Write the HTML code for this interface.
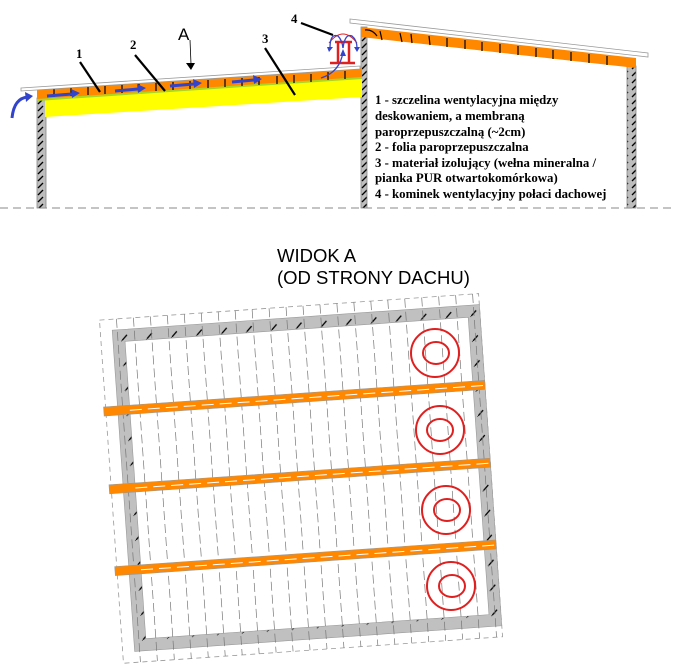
<!DOCTYPE html>
<html><head><meta charset="utf-8"><style>
html,body{margin:0;padding:0;background:#fff}
svg{display:block}
.t{font-family:"Liberation Serif",serif;font-weight:bold;font-size:12.8px}
</style></head><body>
<svg width="673" height="670" viewBox="0 0 673 670" xmlns="http://www.w3.org/2000/svg">
<defs>
<pattern id="h" width="9" height="7" patternUnits="userSpaceOnUse">
<rect width="9" height="7" fill="#bdbdbd"/>
<line x1="2" y1="6" x2="7" y2="1" stroke="#000" stroke-width="1.3"/>
</pattern>
<pattern id="hp" width="25" height="25" patternUnits="userSpaceOnUse">
<rect width="25" height="25" fill="#c0c0c0"/>
<line x1="-1" y1="26" x2="26" y2="-1" stroke="#000" stroke-width="1.3" stroke-dasharray="9,27"/>
</pattern>
</defs>
<line x1="0" y1="208" x2="673" y2="208" stroke="#888" stroke-dasharray="8,5"/>
<rect x="37" y="98" width="9" height="110" fill="url(#h)" stroke="#888" stroke-width="0.8"/>
<rect x="361" y="27" width="6" height="181" fill="url(#h)" stroke="#888" stroke-width="0.8"/>
<rect x="627" y="66" width="9" height="142" fill="url(#h)" stroke="#888" stroke-width="0.8"/>
<polygon points="45,100 362,78 362,97 45,117" fill="#ffff00"/>
<polygon points="37,98 362,76 362,79 37,101" fill="#a8d820"/>
<polygon points="37,90 362,68 362,77 37,99" fill="#ff8800"/>
<g stroke="#000" stroke-width="1.2">
<line x1="54" y1="89" x2="54" y2="97"/><line x1="71" y1="88" x2="71" y2="96"/><line x1="88" y1="87" x2="88" y2="95"/><line x1="105" y1="86" x2="105" y2="94"/><line x1="122" y1="85" x2="122" y2="93"/><line x1="139" y1="84" x2="139" y2="92"/><line x1="156" y1="83" x2="156" y2="91"/><line x1="173" y1="82" x2="173" y2="90"/><line x1="190" y1="81" x2="190" y2="89"/><line x1="208" y1="80" x2="208" y2="88"/><line x1="225" y1="79" x2="225" y2="87"/><line x1="242" y1="78" x2="242" y2="86"/><line x1="259" y1="77" x2="259" y2="85"/><line x1="277" y1="76" x2="277" y2="84"/><line x1="294" y1="75" x2="294" y2="83"/><line x1="311" y1="74" x2="311" y2="82"/><line x1="328" y1="72" x2="328" y2="80"/><line x1="345" y1="71" x2="345" y2="79"/>
</g>
<polygon points="21,88 360,66 360,69 21,91" fill="#fff" stroke="#999" stroke-width="0.8"/>
<polygon points="361,27 636,58 636,68 361,37" fill="#ff8800"/>
<g stroke="#000" stroke-width="1.2">
<line x1="380" y1="31" x2="382" y2="40"/><line x1="400" y1="33" x2="402" y2="42"/><line x1="411" y1="34" x2="412" y2="43"/><line x1="429" y1="36" x2="430" y2="45"/><line x1="447" y1="38" x2="447" y2="47"/><line x1="465" y1="40" x2="465" y2="49"/><line x1="482" y1="42" x2="482" y2="51"/><line x1="500" y1="44" x2="500" y2="53"/><line x1="518" y1="46" x2="518" y2="55"/><line x1="536" y1="48" x2="536" y2="57"/><line x1="553" y1="50" x2="553" y2="59"/><line x1="571" y1="52" x2="571" y2="61"/><line x1="589" y1="54" x2="589" y2="63"/><line x1="607" y1="56" x2="607" y2="65"/>
<path d="M365,30 Q372,29 377,36" fill="none"/>
</g>
<polygon points="350,19 648,53 648,57 350,23" fill="#fff" stroke="#999" stroke-width="0.8"/>
<g stroke="#e02020" stroke-width="2.5" fill="none">
<line x1="335" y1="42" x2="352" y2="42"/>
<line x1="338" y1="42" x2="338" y2="63"/><line x1="349" y1="42" x2="349" y2="63"/>
<line x1="330" y1="63" x2="355" y2="63"/>
</g>
<path d="M329,43 Q343,25 357,43" stroke="#e02020" stroke-width="1" fill="none"/>
<g stroke="#3344cc" stroke-width="1.3" fill="none">
<path d="M330,48 Q330,33 338,36 Q342,40 343,48"/><path d="M343,48 Q345,33 352,36 Q357,40 357,48"/>
<path d="M321,78 Q340,72 343,52"/>
</g>
<g fill="#3344cc"><polygon points="327,47 333,47 329,52"/><polygon points="354,47 360,47 357,52"/><polygon points="340,56 346,56 343,49"/></g>
<g stroke="#3344cc" stroke-width="3" fill="#3344cc">
<line x1="47" y1="96" x2="72" y2="94"/><polygon points="80,93 71,89 72,98" stroke="none"/>
<line x1="115" y1="91" x2="138" y2="89"/><polygon points="146,88 137,84 138,93" stroke="none"/>
<line x1="170" y1="86" x2="194" y2="84"/><polygon points="202,83 193,79 194,88" stroke="none"/>
<line x1="232" y1="82" x2="254" y2="80"/><polygon points="262,79 253,75 254,84" stroke="none"/>
<path d="M12,118 Q14,98 28,97" fill="none" stroke-width="3"/><polygon points="33,96 25,92 26,102" stroke="none"/>
</g>
<g stroke="#000" stroke-width="2.2">
<line x1="80" y1="62" x2="100" y2="92"/><line x1="135" y1="55" x2="165" y2="91"/><line x1="265" y1="48" x2="295" y2="95"/><line x1="301" y1="23" x2="333" y2="35"/>
</g>
<line x1="190" y1="40" x2="191" y2="64" stroke="#000" stroke-width="0.8"/>
<polygon points="186,63 195,63 191,70" fill="#000"/>
<text x="76" y="58" class="t">1</text><text x="130" y="49" class="t">2</text><text x="262" y="43" class="t">3</text><text x="291" y="23" class="t">4</text>
<text x="178" y="40" font-family="Liberation Sans,sans-serif" font-size="17">A</text>
<g class="t">
<text x="375" y="104">1 - szczelina wentylacyjna między</text>
<text x="375" y="120">deskowaniem, a membraną</text>
<text x="375" y="136">paroprzepuszczalną (~2cm)</text>
<text x="375" y="151">2 - folia paroprzepuszczalna</text>
<text x="375" y="167">3 - materiał izolujący (wełna mineralna /</text>
<text x="375" y="182">pianka PUR otwartokomórkowa)</text>
<text x="375" y="198">4 - kominek wentylacyjny połaci dachowej</text>
</g>
<text x="277" y="262" font-family="Liberation Sans,sans-serif" font-size="18.5">WIDOK A</text>
<text x="277" y="284" font-family="Liberation Sans,sans-serif" font-size="18.5">(OD STRONY DACHU)</text>
<g transform="translate(307,478) rotate(-4)">
<rect x="-196" y="-172" width="380" height="344" fill="none" stroke="#999" stroke-dasharray="5,4" stroke-width="0.8"/>
<path fill-rule="evenodd" fill="url(#hp)" stroke="#999" stroke-width="0.6" d="M-184,-161H184V161H-184Z M-172,-149H172V149H-172Z"/>
<g stroke="#777" stroke-width="0.7" stroke-dasharray="9,4">
<line x1="-179" y1="-172" x2="-179" y2="172"/><line x1="-162" y1="-172" x2="-162" y2="172"/><line x1="-145" y1="-172" x2="-145" y2="172"/><line x1="-128" y1="-172" x2="-128" y2="172"/><line x1="-111" y1="-172" x2="-111" y2="172"/><line x1="-94" y1="-172" x2="-94" y2="172"/><line x1="-77" y1="-172" x2="-77" y2="172"/><line x1="-60" y1="-172" x2="-60" y2="172"/><line x1="-43" y1="-172" x2="-43" y2="172"/><line x1="-26" y1="-172" x2="-26" y2="172"/><line x1="-9" y1="-172" x2="-9" y2="172"/><line x1="8" y1="-172" x2="8" y2="172"/><line x1="25" y1="-172" x2="25" y2="172"/><line x1="42" y1="-172" x2="42" y2="172"/><line x1="59" y1="-172" x2="59" y2="172"/><line x1="76" y1="-172" x2="76" y2="172"/><line x1="93" y1="-172" x2="93" y2="172"/><line x1="110" y1="-172" x2="110" y2="172"/><line x1="127" y1="-172" x2="127" y2="172"/><line x1="144" y1="-172" x2="144" y2="172"/><line x1="161" y1="-172" x2="161" y2="172"/><line x1="178" y1="-172" x2="178" y2="172"/>
</g>
<g fill="#ff8800" stroke="#999" stroke-width="0.6">
<rect x="-198" y="-85" width="382" height="9"/><rect x="-198" y="-7" width="382" height="9"/><rect x="-198" y="75" width="382" height="9"/>
</g>
<g stroke="#fff" stroke-width="1" stroke-dasharray="12,6">
<line x1="-172" y1="-80" x2="184" y2="-80"/><line x1="-172" y1="-2" x2="184" y2="-2"/><line x1="-172" y1="80" x2="184" y2="80"/>
</g>
</g>
<g fill="none" stroke="#e02020" stroke-width="2">
<circle cx="435" cy="353" r="24"/><ellipse cx="436" cy="353" rx="13" ry="11"/>
<circle cx="440" cy="430" r="24"/><ellipse cx="440" cy="430" rx="13" ry="11"/>
<circle cx="446" cy="510" r="24"/><ellipse cx="447" cy="510" rx="13" ry="11"/>
<circle cx="451" cy="586" r="24"/><ellipse cx="452" cy="586" rx="13" ry="11"/>
</g>
</svg>
</body></html>
